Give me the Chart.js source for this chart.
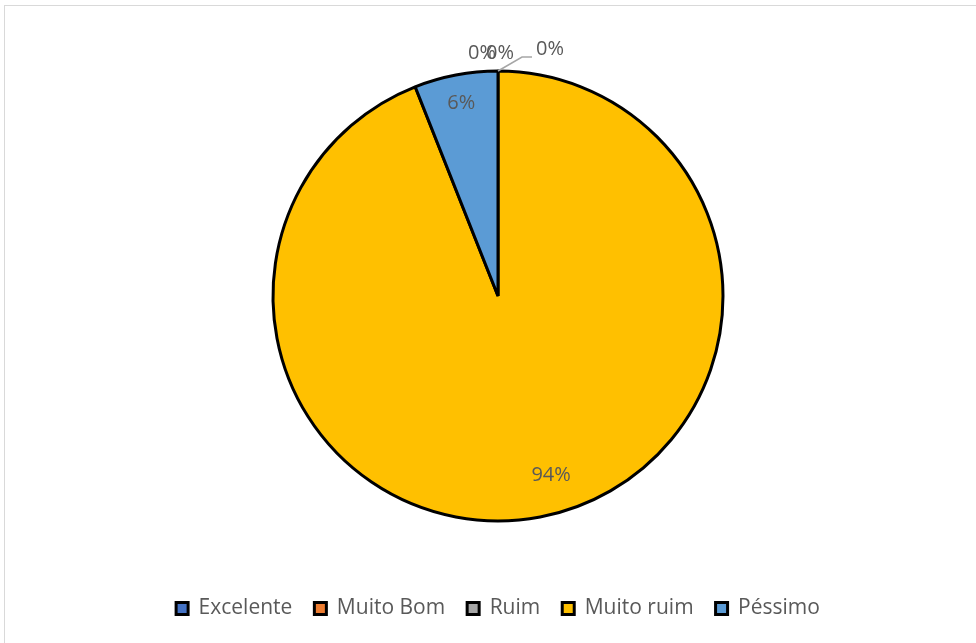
<!DOCTYPE html>
<html>
<head>
<meta charset="utf-8">
<script src="https://cdn.jsdelivr.net/npm/chart.js@4.4.0/dist/chart.umd.min.js"></script>
<style>
  body { margin: 0; background: #fff; }
  #wrap { position: absolute; left: 0; top: 0; width: 976px; height: 643px; }
  #frame { position: absolute; left: 4px; top: 5px; width: 990px; height: 660px; border: 1px solid #d9d9d9; }
</style>
</head>
<body>
<div id="wrap">
  <div id="frame"></div>
  <canvas id="pieChart" width="976" height="643"></canvas>
</div>
<script>
const categories = ['Excelente', 'Muito Bom', 'Ruim', 'Muito ruim', 'Péssimo'];
const percentValues = [0, 0, 0, 94, 6];
const sliceColors = ['#4472C4', '#ED7D31', '#A5A5A5', '#FFC000', '#5B9BD5'];

// where zero-size slice labels sit relative to the top of the pie
const zeroLabelOffsets = [[-16, -18], [2, -18], [52, -22]];

const pctLabels = {
    id: 'pctLabels',
    afterDatasetsDraw(chart) {
        const ctx = chart.ctx;
        const meta = chart.getDatasetMeta(0);
        ctx.save();
        ctx.font = '20px "Open Sans", sans-serif';
        ctx.fillStyle = '#595959';
        ctx.textAlign = 'center';
        ctx.textBaseline = 'middle';
        meta.data.forEach((arc, i) => {
            const p = arc.getProps(['x', 'y', 'startAngle', 'endAngle', 'outerRadius'], true);
            const text = percentValues[i] + '%';
            if (percentValues[i] > 0) {
                let mid = (p.startAngle + p.endAngle) / 2;
                let r = p.outerRadius * 0.87;
                if (percentValues[i] > 50) {
                    // big slice label sits a bit right of its bisector
                    mid -= 0.1;
                    r = p.outerRadius * 0.83;
                }
                ctx.fillText(text, p.x + Math.cos(mid) * r, p.y + Math.sin(mid) * r);
            } else {
                const tx = p.x + Math.cos(p.startAngle) * p.outerRadius;
                const ty = p.y + Math.sin(p.startAngle) * p.outerRadius;
                const off = zeroLabelOffsets[i];
                if (i === 2) {
                    ctx.strokeStyle = '#a6a6a6';
                    ctx.lineWidth = 1.5;
                    ctx.beginPath();
                    ctx.moveTo(tx, ty);
                    ctx.lineTo(tx + 24, ty - 14);
                    ctx.lineTo(tx + 34, ty - 14);
                    ctx.stroke();
                }
                ctx.fillText(text, tx + off[0], ty + off[1]);
            }
        });
        ctx.restore();
    }
};

new Chart(document.getElementById('pieChart').getContext('2d'), {
    type: 'pie',
    data: {
        labels: categories,
        datasets: [{
            data: percentValues,
            backgroundColor: sliceColors,
            borderColor: '#000000',
            borderWidth: 3
        }]
    },
    options: {
        responsive: false,
        animation: false,
        radius: 225,
        layout: { padding: { left: 20, top: 16, bottom: 14 } },
        plugins: {
            legend: {
                position: 'bottom',
                labels: {
                    color: '#595959',
                    font: { family: '"Open Sans", sans-serif', size: 21 },
                    boxWidth: 12,
                    boxHeight: 12,
                    padding: 22
                }
            },
            tooltip: { enabled: false }
        }
    },
    plugins: [pctLabels]
});
</script>
</body>
</html>
